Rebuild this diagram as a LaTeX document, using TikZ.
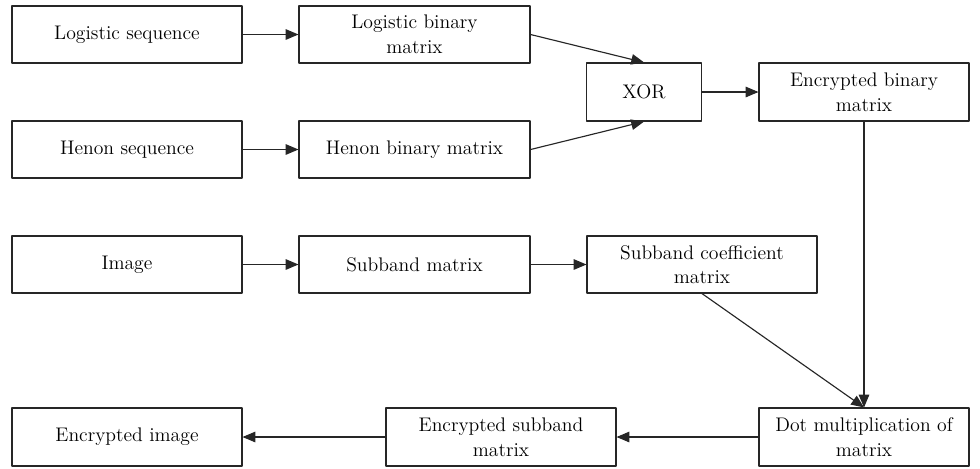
\documentclass[tikz,border=0pt]{standalone}
\usepackage{tikz}
\usetikzlibrary{arrows}
\tikzset{blk/.style={draw=black!85, line width=0.65pt, minimum height=57*0.02cm, align=center, inner sep=1pt, font=\fontsize{11.2}{14}\selectfont},
  conn/.style={->, draw=black!85, line width=0.65pt}}

\begin{document}
\begin{tikzpicture}[line cap=round,line join=round,>=triangle 45,x=0.02cm,y=-0.02cm]
\useasboundingbox (0,0) rectangle (980,468);
\node[blk, minimum width=230*0.02cm] (logseq) at (127,34.5) {Logistic sequence};
\node[blk, minimum width=231*0.02cm] (logbin) at (414.5,34.5) {Logistic binary\\matrix};
\node[blk, minimum width=115*0.02cm, minimum height=58*0.02cm] (xor) at (644,92) {XOR};
\node[blk, minimum width=210*0.02cm, minimum height=58*0.02cm] (encbin) at (864,92) {Encrypted binary\\matrix};
\node[blk, minimum width=230*0.02cm] (henseq) at (127,149.5) {Henon sequence};
\node[blk, minimum width=231*0.02cm] (henbin) at (414.5,149.5) {Henon binary matrix};
\node[blk, minimum width=230*0.02cm] (img) at (127,264.5) {Image};
\node[blk, minimum width=231*0.02cm] (sub) at (414.5,264.5) {Subband matrix};
\node[blk, minimum width=230*0.02cm] (subco) at (702,264.5) {Subband coefficient\\matrix};
\node[blk, minimum width=230*0.02cm, minimum height=58*0.02cm] (encimg) at (127,437) {Encrypted image};
\node[blk, minimum width=230*0.02cm, minimum height=58*0.02cm] (encsub) at (501,437) {Encrypted subband\\matrix};
\node[blk, minimum width=210*0.02cm, minimum height=58*0.02cm] (dot) at (864,437) {Dot multiplication of\\matrix};
\draw[conn] (logseq) -- (logbin);
\draw[conn] (henseq) -- (henbin);
\draw[conn] (logbin.east) -- (xor.north);
\draw[conn] (henbin.east) -- (xor.south);
\draw[conn] (xor) -- (encbin);
\draw[conn] (img) -- (sub);
\draw[conn] (sub) -- (subco);
\draw[conn] (encbin.south) -- (dot.north);
\draw[conn] (subco.south) -- (dot.north);
\draw[conn] (dot) -- (encsub);
\draw[conn] (encsub) -- (encimg);
\end{tikzpicture}
\end{document}
